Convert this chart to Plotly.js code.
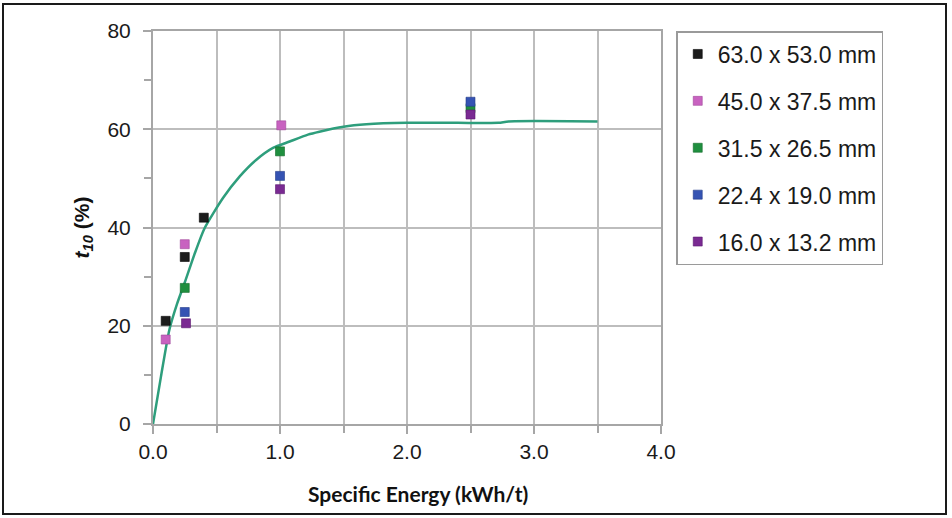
<!DOCTYPE html>
<html>
<head>
<meta charset="utf-8">
<script src="https://cdn.plot.ly/plotly-3.0.1.min.js"></script>
<style>
  html, body { margin: 0; padding: 0; background: #fff; }
  #wrap { position: relative; width: 952px; height: 518px; }
  #chart { width: 952px; height: 518px; }
  #frame { position: absolute; left: 2px; top: 3px; width: 941px; height: 508px;
           border: 2.5px solid #1a1a1a; pointer-events: none; }
</style>
</head>
<body>
<div id="wrap">
  <div id="chart"></div>
  <div id="frame"></div>
</div>
<script>
// Series names
const seriesNames = ["63.0 x 53.0 mm", "45.0 x 37.5 mm", "31.5 x 26.5 mm", "22.4 x 19.0 mm", "16.0 x 13.2 mm"];

// Measured points (specific energy kWh/t, t10 %)
const x63 = [0.10, 0.25, 0.40];
const y63 = [21.0, 34.0, 42.0];
const x45 = [0.10, 0.25, 1.01];
const y45 = [17.2, 36.6, 60.8];
const x31 = [0.25, 1.00, 2.50];
const y31 = [27.7, 55.5, 64.3];
const x22 = [0.25, 1.00, 2.50];
const y22 = [22.8, 50.5, 65.6];
const x16 = [0.26, 1.00, 2.50];
const y16 = [20.5, 47.8, 63.0];

// Fitted curve
const curveX = [0, 0.063, 0.129, 0.19, 0.25, 0.33, 0.407, 0.551, 0.683, 0.814, 0.945, 1.076, 1.22, 1.31, 1.50, 1.68, 2.00, 2.40, 2.72, 2.80, 3.50];
const curveY = [0, 9.7, 19.2, 24.5, 28.8, 34.8, 39.9, 46.0, 50.4, 53.8, 56.2, 57.5, 58.9, 59.5, 60.5, 61.0, 61.3, 61.3, 61.3, 61.6, 61.6];

// Axis title texts
const xTitle = '<b>Specific Energy (kWh/t)</b>';
const yTitle = '<b><i>t</i><sub><i>10</i></sub> (%)</b>';

const colors = ["#1c1c1c", "#c862c0", "#1f8f3f", "#3553b3", "#7a2a92"];
const borders = ["#000000", "#a0489a", "#146b2c", "#233c8a", "#5a1a70"];

const xs = [x63, x45, x31, x22, x16];
const ys = [y63, y45, y31, y22, y16];

const traces = [{
  x: curveX, y: curveY, mode: 'lines', type: 'scatter',
  line: { color: '#2e9e7c', width: 2.5, shape: 'spline', smoothing: 0.6 },
  showlegend: false, hoverinfo: 'skip'
}];
for (let i = 0; i < seriesNames.length; i++) {
  traces.push({
    x: xs[i], y: ys[i], mode: 'markers', type: 'scatter',
    name: seriesNames[i], legendgroup: 'g' + i,
    marker: { symbol: 'square', size: 9, color: colors[i], line: { color: borders[i], width: 0.6 } }
  });
}

const tickFont = { family: 'Liberation Sans, Arial, sans-serif', size: 21, color: '#1a1a1a' };
const gridColor = '#bdbdbd';

const layout = {
  width: 952, height: 518,
  margin: { l: 153, r: 291, t: 31, b: 94 },
  paper_bgcolor: '#ffffff', plot_bgcolor: '#ffffff',
  showlegend: true,
  legend: {
    x: 1.03, xanchor: 'left', y: 1.0, yanchor: 'top',
    bgcolor: '#ffffff', bordercolor: '#9a9a9a', borderwidth: 1.5,
    font: { family: 'Liberation Sans, Arial, sans-serif', size: 23, color: '#1a1a1a' },
    traceorder: 'grouped', tracegroupgap: 14, itemsizing: 'trace'
  },
  xaxis: {
    range: [0, 4], dtick: 1, tick0: 0, tickformat: '.1f',
    showgrid: true, gridcolor: gridColor, gridwidth: 2,
    showline: true, linecolor: '#a6a6a6', linewidth: 2, mirror: true,
    ticks: 'outside', ticklen: 8, tickwidth: 2, tickcolor: '#a6a6a6',
    minor: { dtick: 0.5, tick0: 0, showgrid: true, gridcolor: gridColor, gridwidth: 2,
             ticks: 'outside', ticklen: 7, tickwidth: 2, tickcolor: '#a6a6a6' },
    zeroline: false, tickfont: tickFont, ticklabelstandoff: 0
  },
  yaxis: {
    range: [0, 80], dtick: 20, tick0: 0,
    showgrid: true, gridcolor: gridColor, gridwidth: 2,
    showline: true, linecolor: '#a6a6a6', linewidth: 2, mirror: true,
    ticks: 'outside', ticklen: 8, tickwidth: 2, tickcolor: '#a6a6a6',
    minor: { dtick: 10, tick0: 0, showgrid: false,
             ticks: 'outside', ticklen: 7, tickwidth: 2, tickcolor: '#a6a6a6' },
    zeroline: false, tickfont: tickFont, ticklabelstandoff: 8,
    title: { text: yTitle, standoff: 12,
             font: { family: 'Liberation Sans, Arial, sans-serif', size: 21, color: '#111' } }
  },
  annotations: [{
    text: xTitle, xref: 'paper', yref: 'paper', x: 0.522, y: -0.178,
    xanchor: 'center', yanchor: 'middle', showarrow: false,
    font: { family: 'Lato, Open Sans, sans-serif', size: 21, color: '#111' }
  }]
};

Plotly.newPlot('chart', traces, layout, { staticPlot: true, displayModeBar: false });
</script>
</body>
</html>
